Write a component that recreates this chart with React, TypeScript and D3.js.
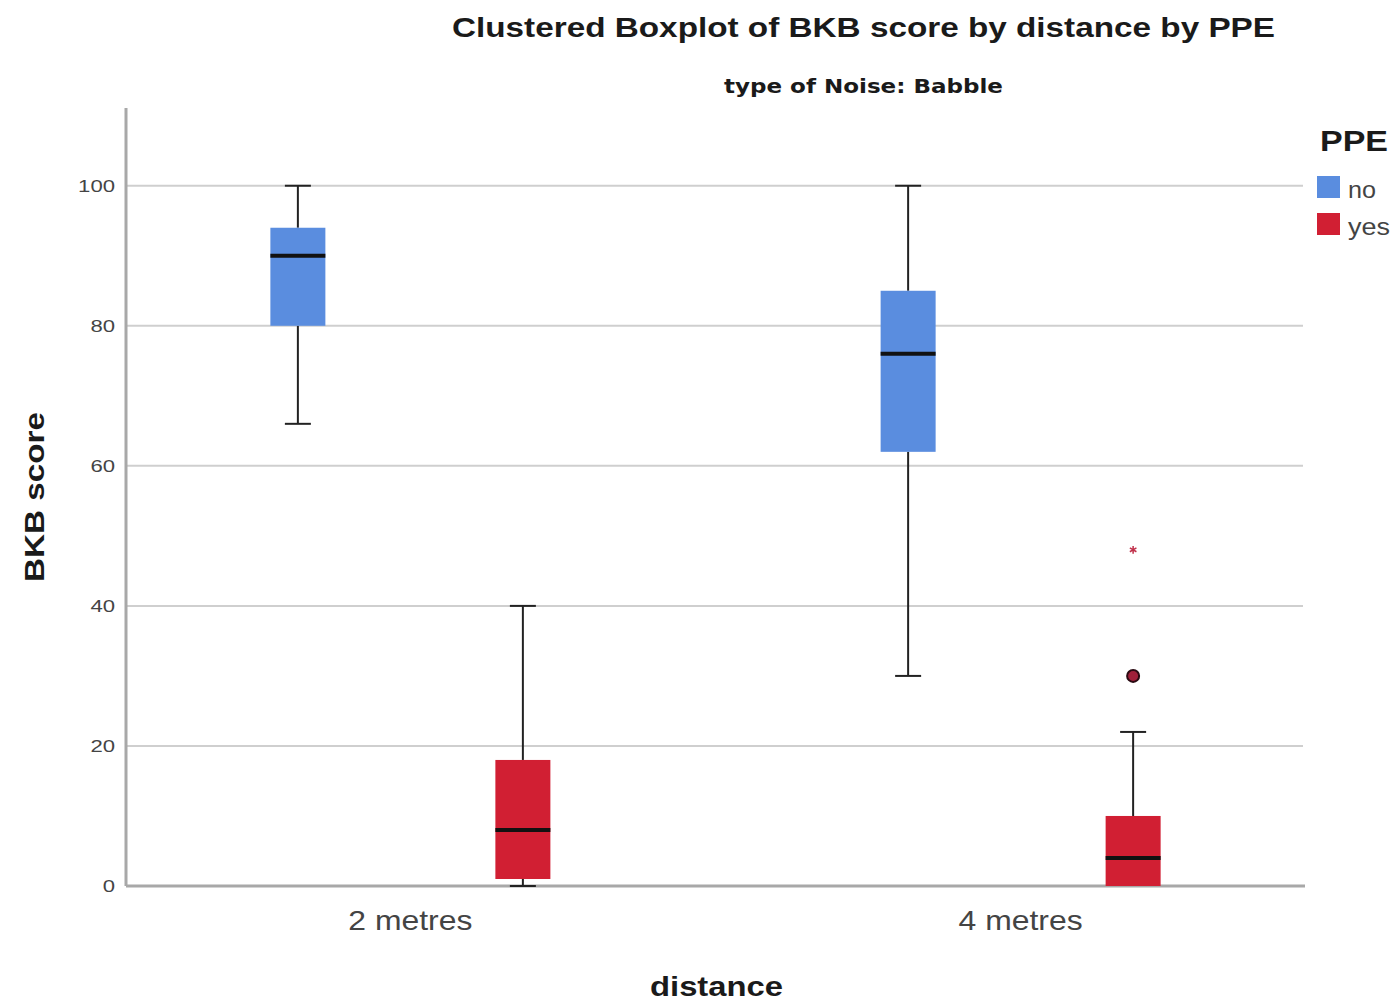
import React from 'react'
import * as d3 from 'd3'

const distances = ['2 metres', '4 metres']
const ppeLevels = ['no', 'yes']
const ppeColors = ['#5a8ddf', '#d11f33']

// box stats per distance, per PPE level: [lowerWhisker, q1, median, q3, upperWhisker]
const noStats = [
  [66, 80, 90, 94, 100],
  [30, 62, 76, 85, 100],
]
const yesStats = [
  [0, 1, 8, 18, 40],
  [0, 0, 4, 10, 22],
]
// outliers (circle) and extremes (star) for 4 metres, yes
const yesOutliers = [[], [30]]
const yesExtremes = [[], [48]]

const yTicks = [0, 20, 40, 60, 80, 100]

const W = 1395
const H = 1004
const left = 126
const right = 1305
const top = 108
const bottom = 886
const font = 'Liberation Sans, Arial'

const App = () => {
  const y = d3.scaleLinear().domain([0, 111.1]).range([bottom, top])
  const x = d3.scalePoint<string>().domain(distances).range([left, right]).padding(0.466)
  const sub = d3.scaleBand<string>().domain(ppeLevels).range([-225, 225])
  const boxW = 55
  const capW = 26

  const boxes: any[] = []
  distances.forEach((d, i) => {
    boxes.push({ d, ppe: 'no', s: noStats[i], out: [], ext: [] })
    boxes.push({ d, ppe: 'yes', s: yesStats[i], out: yesOutliers[i], ext: yesExtremes[i] })
  })

  const star = d3.symbol().type(d3.symbolAsterisk).size(40)

  return (
    <svg width={W} height={H} style={{ position: 'absolute', left: 0, top: 0, background: '#fff' }}>
      <text x={452} y={37} textLength={823} lengthAdjust="spacingAndGlyphs" fontFamily={font} fontWeight="bold" fontSize={28} fill="#1a1a1a">
        Clustered Boxplot of BKB score by distance by PPE
      </text>
      <text x={724} y={93} textLength={279} lengthAdjust="spacingAndGlyphs" fontFamily="DejaVu Sans" fontWeight="bold" fontSize={19} fill="#1a1a1a">
        type of Noise: Babble
      </text>

      {yTicks.filter(t => t > 0).map(t => (
        <line key={t} x1={left} x2={right - 2} y1={y(t)} y2={y(t)} stroke="#cfcfcf" strokeWidth={2} />
      ))}
      {yTicks.map(t => (
        <text key={'t' + t} x={115 - String(t).length * 12.3} y={y(t) + 6} textLength={String(t).length * 12.3} lengthAdjust="spacingAndGlyphs" fontFamily={font} fontSize={16} fill="#444">
          {t}
        </text>
      ))}

      <line x1={left} x2={left} y1={top} y2={bottom} stroke="#a8a8a8" strokeWidth={3} />
      <line x1={left} x2={right} y1={bottom} y2={bottom} stroke="#a8a8a8" strokeWidth={3} />

      {boxes.map((b, i) => {
        const cx = (x(b.d) as number) + (sub(b.ppe) as number) + sub.bandwidth() / 2
        const [lo, q1, med, q3, hi] = b.s
        const col = ppeColors[ppeLevels.indexOf(b.ppe)]
        return (
          <g key={i}>
            <line x1={cx} x2={cx} y1={y(hi)} y2={y(q3)} stroke="#222" strokeWidth={2} />
            <line x1={cx} x2={cx} y1={y(q1)} y2={y(lo)} stroke="#222" strokeWidth={2} />
            <line x1={cx - capW / 2} x2={cx + capW / 2} y1={y(hi)} y2={y(hi)} stroke="#222" strokeWidth={2} />
            {lo !== q1 && (
              <line x1={cx - capW / 2} x2={cx + capW / 2} y1={y(lo)} y2={y(lo)} stroke="#222" strokeWidth={2} />
            )}
            <rect x={cx - boxW / 2} y={y(q3)} width={boxW} height={y(q1) - y(q3)} fill={col} />
            <line x1={cx - boxW / 2} x2={cx + boxW / 2} y1={y(med)} y2={y(med)} stroke="#111" strokeWidth={4} />
            {b.out.map((o: number, j: number) => (
              <circle key={j} cx={cx} cy={y(o)} r={6} fill="#a0203a" stroke="#2a0a12" strokeWidth={2} />
            ))}
            {b.ext.map((o: number, j: number) => (
              <path key={j} d={star() as string} transform={`translate(${cx},${y(o)})`} fill="#c0304a" stroke="#c0304a" strokeWidth={1.5} />
            ))}
          </g>
        )
      })}

      {distances.map(d => (
        <text key={d} x={x(d) as number} y={930} textAnchor="middle" textLength={124} lengthAdjust="spacingAndGlyphs" fontFamily={font} fontSize={28} fill="#444">
          {d}
        </text>
      ))}

      <text x={650} y={996} textLength={133} lengthAdjust="spacingAndGlyphs" fontFamily={font} fontWeight="bold" fontSize={28} fill="#1a1a1a">
        distance
      </text>
      <text transform={`translate(44,${582}) rotate(-90)`} textLength={170} lengthAdjust="spacingAndGlyphs" fontFamily={font} fontWeight="bold" fontSize={27} fill="#1a1a1a">
        BKB score
      </text>

      <text x={1320} y={151} textLength={68} lengthAdjust="spacingAndGlyphs" fontFamily={font} fontWeight="bold" fontSize={30} fill="#1a1a1a">
        PPE
      </text>
      {ppeLevels.map((p, i) => (
        <g key={p}>
          <rect x={1317} y={176 + i * 37} width={23} height={22} fill={ppeColors[i]} />
          <text x={1348} y={198 + i * 37} textLength={p.length === 2 ? 28 : 42} lengthAdjust="spacingAndGlyphs" fontFamily={font} fontSize={23} fill="#444">
            {p}
          </text>
        </g>
      ))}
    </svg>
  )
}

export default App
